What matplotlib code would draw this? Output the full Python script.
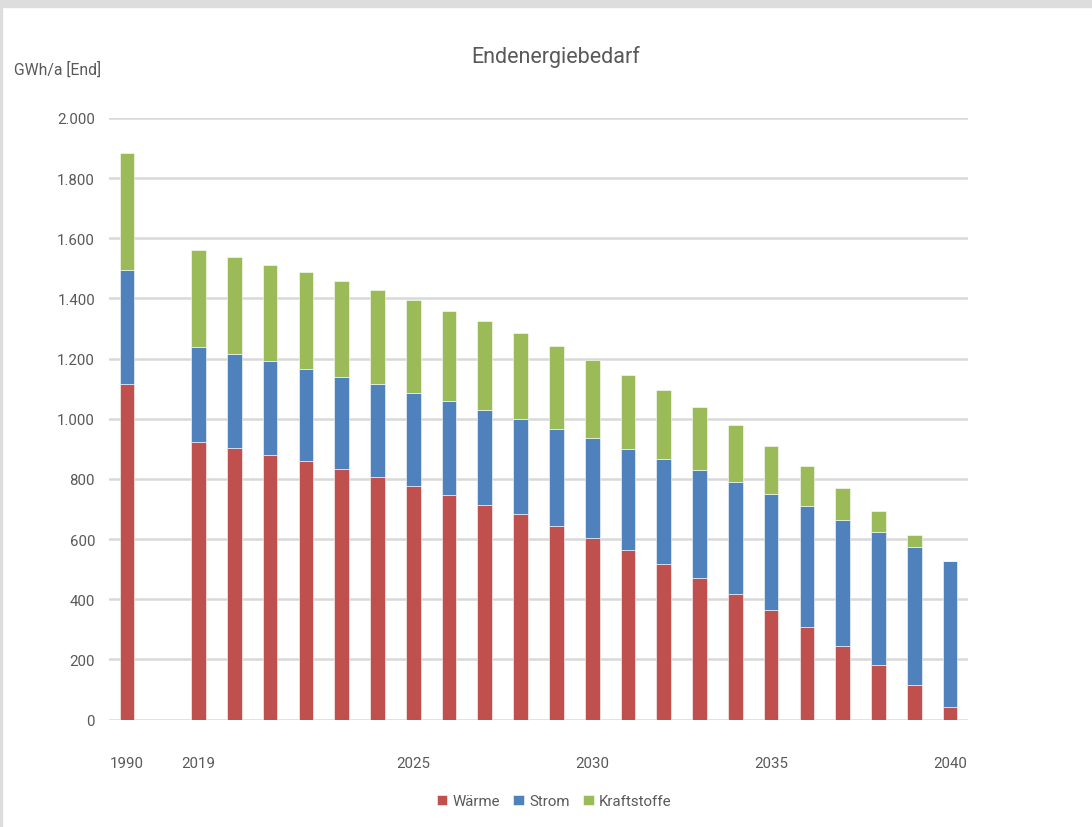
import matplotlib
matplotlib.use("Agg")
import matplotlib.pyplot as plt
import numpy as np
from matplotlib.patches import Rectangle

# ---- data ----
categories = ["1990", ""] + [str(y) for y in range(2019, 2041)]
waerme = [1114, 0, 924, 903, 879, 858, 834, 805, 776, 745, 714, 683, 643, 604,
          563, 516, 471, 418, 363, 309, 246, 182, 116, 42]
strom_top = [1496, 0, 1237, 1216, 1192, 1164, 1140, 1114, 1087, 1058, 1030, 999, 967, 936,
             900, 865, 830, 791, 749, 710, 665, 623, 573, 527]
total = [1885, 0, 1561, 1538, 1512, 1488, 1459, 1428, 1396, 1358, 1326, 1284, 1242, 1196,
         1146, 1094, 1038, 978, 911, 843, 770, 694, 612, 527]
shown_ticks = ["1990", "2019", "2025", "2030", "2035", "2040"]
series_names = ["Wärme", "Strom", "Kraftstoffe"]
y_ticks = [0, 200, 400, 600, 800, 1000, 1200, 1400, 1600, 1800, 2000]
y_tick_labels = ["0", "200", "400", "600", "800", "1.000", "1.200", "1.400", "1.600", "1.800", "2.000"]

waerme = np.array(waerme, float)
strom = np.array(strom_top, float) - waerme
kraft = np.array(total, float) - np.array(strom_top, float)

plt.rcParams['font.family'] = ['Roboto', 'DejaVu Sans']
TXT = "#595959"

fig = plt.figure(figsize=(10.92, 8.28), dpi=100)
fig.patches.append(Rectangle((0, 1 - 8 / 828), 1, 8 / 828, transform=fig.transFigure,
                             color="#DDDDDD", zorder=0))
fig.patches.append(Rectangle((0, 0), 2 / 1092, 1, transform=fig.transFigure,
                             color="#DDDDDD", zorder=0))

ax = fig.add_axes([109 / 1092, (828 - 720.5) / 828, (968 - 109) / 1092, (720.5 - 119) / 828])
x = np.arange(len(categories))
w = 0.41
cols = ["#C0504D", "#4F81BD", "#9BBB59"]
ax.bar(x, waerme, w, color=cols[0], label=series_names[0], zorder=3, edgecolor="white", linewidth=0.4)
ax.bar(x, strom, w, bottom=waerme, color=cols[1], label=series_names[1], zorder=3, edgecolor="white", linewidth=0.4)
ax.bar(x, kraft, w, bottom=waerme + strom, color=cols[2], label=series_names[2], zorder=3, edgecolor="white", linewidth=0.4)

ax.set_xlim(-0.5, len(categories) - 0.5)
ax.set_ylim(0, 2000)
ax.set_yticks(y_ticks)
ax.set_yticklabels(y_tick_labels)
tick_pos = [categories.index(t) for t in shown_ticks]
ax.set_xticks(tick_pos)
ax.set_xticklabels(shown_ticks)
ax.tick_params(axis="both", length=0, colors=TXT, labelsize=10.8)
ax.tick_params(axis="x", pad=26)
ax.tick_params(axis="y", pad=10)
ax.grid(axis="y", color="#D9D9D9", linewidth=1.8, zorder=0)
for s in ax.spines.values():
    s.set_visible(False)
ax.set_facecolor("white")

fig.text(556 / 1092, 1 - 57 / 828, "Endenergiebedarf", ha="center", va="center",
         fontsize=15.5, color=TXT)
fig.text(14 / 1092, 1 - 70 / 828, "GWh/a [End]", ha="left", va="center",
         fontsize=11.3, color=TXT)

leg = fig.legend(loc="center", bbox_to_anchor=(554 / 1092, 1 - 802 / 828), ncol=3,
                 frameon=False, fontsize=10.8, handlelength=0.7, handleheight=0.7,
                 handletextpad=0.35, columnspacing=0.9)
for t in leg.get_texts():
    t.set_color(TXT)

fig.savefig("out.png", dpi=100, facecolor="white")
